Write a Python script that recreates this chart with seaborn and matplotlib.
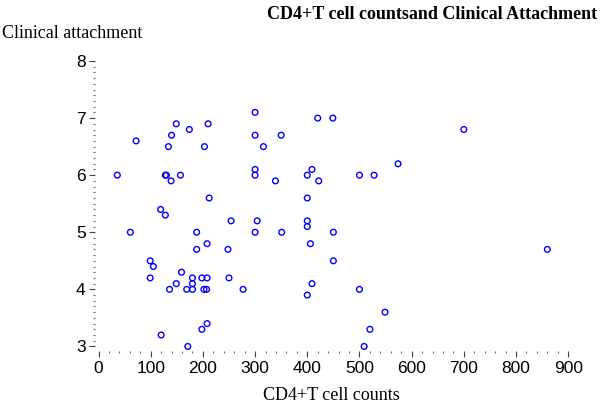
import matplotlib
matplotlib.use('Agg')
import matplotlib.pyplot as plt
import seaborn as sns
import pandas as pd
from matplotlib.ticker import MultipleLocator

# CD4+T cell counts vs clinical attachment
cd4_counts = [36, 61, 72, 99, 105, 99, 119, 128, 120, 128, 130, 134, 136, 139, 140,
              149, 149, 157, 159, 169, 171, 174, 180, 180, 180, 188, 188, 198, 198, 202,
              203, 207, 208, 208, 208, 210, 212, 248, 250, 254, 277, 300, 300, 300, 300,
              300, 304, 316, 339, 350, 351, 400, 400, 400, 400, 400, 406, 409, 409, 420,
              422, 449, 450, 450, 500, 500, 509, 520, 528, 549, 574, 700, 860]
attachment = [6.0, 5.0, 6.6, 4.5, 4.4, 4.2, 5.4, 5.3, 3.2, 6.0, 6.0, 6.5, 4.0, 5.9, 6.7,
              6.9, 4.1, 6.0, 4.3, 4.0, 3.0, 6.8, 4.2, 4.1, 4.0, 5.0, 4.7, 4.2, 3.3, 4.0,
              6.5, 4.0, 4.2, 4.8, 3.4, 6.9, 5.6, 4.7, 4.2, 5.2, 4.0, 7.1, 6.7, 6.1, 6.0,
              5.0, 5.2, 6.5, 5.9, 6.7, 5.0, 6.0, 5.6, 5.2, 5.1, 3.9, 4.8, 6.1, 4.1, 7.0,
              5.9, 7.0, 5.0, 4.5, 6.0, 4.0, 3.0, 3.3, 6.0, 3.6, 6.2, 6.8, 4.7]

x_ticks = [0, 100, 200, 300, 400, 500, 600, 700, 800, 900]
y_ticks = [3, 4, 5, 6, 7, 8]

df = pd.DataFrame({'cd4': cd4_counts, 'cal': attachment})

sns.set_style('white', {'text.color': 'black', 'xtick.color': 'black', 'ytick.color': 'black'})
plt.rcParams['font.family'] = ['Liberation Sans', 'DejaVu Sans']

fig = plt.figure(figsize=(6, 4.08), dpi=100)
ax = fig.add_axes([0.159, 0.1397, 0.788, 0.7108])

sns.scatterplot(data=df, x='cd4', y='cal', ax=ax, marker='o', s=17,
                facecolor='none', edgecolor='#0000ff', linewidth=1.0)

ax.set_xlim(-6, 900)
ax.set_ylim(2.92, 8.0)
ax.set_xticks(x_ticks)
ax.set_yticks(y_ticks)
ax.xaxis.set_minor_locator(MultipleLocator(20))
ax.yaxis.set_minor_locator(MultipleLocator(0.1))
for s in ax.spines.values():
    s.set_visible(False)
ax.tick_params(which='major', direction='out', length=4, width=0.8, color='#444444',
               labelcolor='black', labelsize=12.5, pad=3, bottom=True, left=True)
ax.tick_params(which='minor', direction='out', length=1.5, width=0.8, color='#666666',
               bottom=True, left=True)
ax.set_xlabel('')
ax.set_ylabel('')

serif = ['Liberation Serif', 'DejaVu Serif']
fig.text(0.995, 0.985, 'CD4+T cell countsand Clinical Attachment', ha='right', va='top',
         fontsize=13, fontweight='bold', family=serif, color='black')
fig.text(0.003, 1 - 33 / 408, 'Clinical attachment', ha='left', va='center',
         fontsize=13, family=serif, color='black')
fig.text(331 / 600, 1 - 395 / 408, 'CD4+T cell counts', ha='center', va='center',
         fontsize=13, family=serif, color='black')

fig.savefig('out.png', dpi=100)
